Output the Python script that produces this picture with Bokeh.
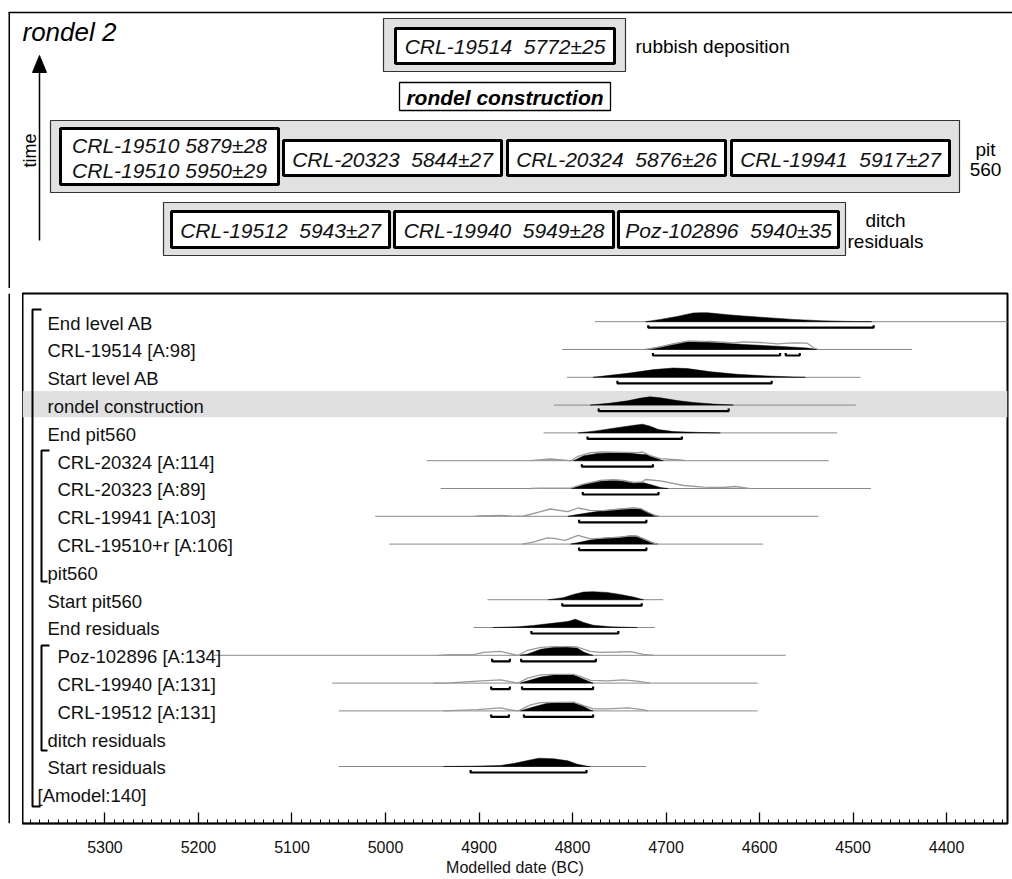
import numpy as np
from bokeh.plotting import figure
from bokeh.layouts import column, row
from bokeh.models import Range1d, SingleIntervalTicker
from bokeh.core.properties import value
from bokeh.embed import file_html
from bokeh.resources import INLINE

# ---------------------------------------------------------------- data
row_labels = ["End level AB", "CRL-19514 [A:98]", "Start level AB", "rondel construction",
              "End pit560", "CRL-20324 [A:114]", "CRL-20323 [A:89]", "CRL-19941 [A:103]",
              "CRL-19510+r [A:106]", "pit560", "Start pit560", "End residuals",
              "Poz-102896 [A:134]", "CRL-19940 [A:131]", "CRL-19512 [A:131]",
              "ditch residuals", "Start residuals", "[Amodel:140]"]
row_level = [0, 0, 0, 0, 0, 1, 1, 1, 1, 0, 0, 0, 1, 1, 1, 0, 0, -1]

# prior (unmodelled) extent of each distribution, years BC
prior_start = [4776, 4811, 4806, 4820, 4831, 4956, 4941, 5011, 4996, None, 4891, 4906, 5184, 5057, 5050, None, 5050, None]
prior_end   = [4300, 4437, 4492, 4497, 4517, 4526, 4481, 4537, 4596, None, 4703, 4712, 4572, 4602, 4602, None, 4721, None]

# modelled (posterior) densities
post0_x = [4722, 4706, 4688, 4671, 4663, 4655, 4634, 4617, 4591, 4564, 4535, 4506, 4480]
post0_p = [0, 2.3, 5.3, 8.7, 9.0, 8.9, 7.0, 5.7, 4.0, 2.3, 1.0, 0.3, 0]
post1_x = [4722, 4706, 4695, 4684, 4676, 4663, 4652, 4617, 4581, 4549, 4538]
post1_p = [0, 2.7, 5, 7, 8.3, 8, 7.3, 5, 3.3, 1.5, 0]
post2_x = [4778, 4760, 4741, 4713, 4692, 4677, 4652, 4624, 4591, 4564, 4551]
post2_p = [0, 2, 4, 7.7, 9.3, 8.7, 5.5, 3, 1.3, 0.3, 0]
post3_x = [4781, 4759, 4741, 4727, 4717, 4706, 4688, 4671, 4649, 4628]
post3_p = [0, 2, 4.3, 7, 8.3, 7.3, 4.5, 2.7, 1, 0]
post4_x = [4794, 4775, 4754, 4734, 4725, 4717, 4708, 4692, 4666, 4642]
post4_p = [0, 2, 5, 7.7, 8.7, 6.7, 3.3, 1.3, 0.5, 0]
post5_x = [4799, 4788, 4773, 4756, 4738, 4731, 4720, 4713, 4706, 4703]
post5_p = [0, 5, 7.3, 8, 7.7, 6.7, 6, 3.3, 1, 0]
post6_x = [4802, 4788, 4770, 4756, 4746, 4735, 4724, 4717, 4706, 4698]
post6_p = [0, 4.3, 8, 8.7, 8, 6, 5.7, 4, 1, 0]
post7_x = [4805, 4795, 4781, 4767, 4749, 4735, 4727, 4720, 4713, 4708]
post7_p = [0, 1.7, 3.7, 5.7, 7.3, 8.3, 7.7, 4.3, 1.3, 0]
post8_x = [4802, 4795, 4781, 4767, 4749, 4738, 4731, 4724, 4714, 4709]
post8_p = [0, 1.3, 4, 6, 7, 8.3, 8, 5.3, 1.3, 0]
post10_x = [4826, 4810, 4799, 4788, 4778, 4763, 4749, 4735, 4724]
post10_p = [0, 2, 5.3, 7.7, 8, 7.3, 5.3, 2.7, 0]
post11_x = [4885, 4859, 4842, 4824, 4805, 4797, 4788, 4778, 4759, 4731]
post11_p = [0, 0.7, 2, 4, 6, 8.3, 5, 2.3, 0.7, 0]
post12_x = [4856, 4848, 4834, 4820, 4805, 4795, 4788, 4781, 4778]
post12_p = [0, 1.3, 6, 8, 8.3, 7.3, 3.3, 0.7, 0]
post13_x = [4856, 4834, 4820, 4799, 4791, 4781, 4778]
post13_p = [0, 6, 8, 8.3, 5, 1, 0]
post14_x = [4856, 4842, 4827, 4813, 4799, 4789, 4781, 4778]
post14_p = [0, 4, 7.7, 8.3, 8.3, 5, 1, 0]
post16_x = [4938, 4909, 4877, 4863, 4848, 4836, 4820, 4805, 4795, 4784, 4781]
post16_p = [0, 0.3, 1, 3, 6, 8.3, 7.7, 5.7, 2.3, 0.3, 0]

# unmodelled likelihoods (grey outlines)
like1_x = [4722, 4706, 4695, 4684, 4676, 4663, 4656, 4652, 4628, 4618, 4599, 4581, 4564, 4549, 4542, 4537]
like1_p = [0, 2.7, 5, 7, 8.3, 8, 8, 8, 6.7, 7.7, 7, 5.7, 6.7, 6.3, 1.7, 0]
like5_x = [4845, 4824, 4802, 4795, 4781, 4767, 4731, 4725, 4717, 4706, 4685, 4679]
like5_p = [0, 1.7, 0, 4, 8, 8.7, 8, 8.7, 5, 2, 0.7, 0]
like6_x = [4845, 4834, 4802, 4788, 4770, 4756, 4746, 4735, 4726, 4722, 4706, 4681, 4660, 4639, 4626, 4613, 4610]
like6_p = [0, 0.3, 0.3, 4.3, 8, 8.7, 8, 6, 6.5, 9, 7.7, 3, 1.3, 1, 2, 0.3, 0]
like7_x = [4905, 4900, 4877, 4863, 4852, 4837, 4824, 4805, 4794, 4781, 4767, 4749, 4735, 4727, 4720, 4713, 4708]
like7_p = [0, 0.3, 1, 0, 0.3, 4, 7.3, 4.7, 8.3, 6, 5.7, 7.3, 8.3, 7.7, 4.3, 1.3, 0]
like8_x = [4854, 4842, 4827, 4820, 4808, 4794, 4781, 4767, 4749, 4738, 4731, 4724, 4714, 4709]
like8_p = [0, 2, 6.3, 5.7, 3.7, 8.7, 5.3, 6, 7, 8.3, 8, 5.3, 1.3, 0]
like12_x = [4944, 4931, 4906, 4895, 4877, 4868, 4858, 4848, 4834, 4820, 4805, 4795, 4781, 4770, 4752, 4738, 4724, 4713]
like12_p = [0, 0.7, 0.7, 3, 4, 2, 0, 5, 8, 8.7, 8.7, 8.3, 4, 3, 3.3, 3.7, 1, 0]
like13_x = [4949, 4931, 4902, 4877, 4868, 4858, 4848, 4834, 4820, 4799, 4789, 4781, 4763, 4746, 4731, 4717]
like13_p = [0, 0.3, 2, 3.3, 1.7, 0, 5, 8.3, 8.7, 8.7, 5.7, 2.7, 2.3, 3.3, 2, 0]
like14_x = [4938, 4902, 4877, 4868, 4858, 4845, 4834, 4799, 4784, 4778, 4763, 4741, 4727, 4719]
like14_p = [0, 1.3, 3, 1.3, 0, 6, 8.3, 8.7, 4, 2, 2, 3, 1.5, 0]

# 95.4% highest posterior density ranges
hpd0 = [(4719, 4478)]
hpd1 = [(4714, 4578), (4572, 4557)]
hpd2 = [(4752, 4587)]
hpd3 = [(4772, 4633)]
hpd4 = [(4784, 4683)]
hpd5 = [(4790, 4714)]
hpd6 = [(4789, 4708)]
hpd7 = [(4793, 4721)]
hpd8 = [(4793, 4721)]
hpd10 = [(4811, 4726)]
hpd11 = [(4844, 4751)]
hpd12 = [(4886, 4867), (4855, 4775)]
hpd13 = [(4887, 4867), (4854, 4778)]
hpd14 = [(4887, 4868), (4852, 4778)]
hpd16 = [(4909, 4785)]

posteriors = {0: (post0_x, post0_p), 1: (post1_x, post1_p), 2: (post2_x, post2_p),
              3: (post3_x, post3_p), 4: (post4_x, post4_p), 5: (post5_x, post5_p),
              6: (post6_x, post6_p), 7: (post7_x, post7_p), 8: (post8_x, post8_p),
              10: (post10_x, post10_p), 11: (post11_x, post11_p), 12: (post12_x, post12_p),
              13: (post13_x, post13_p), 14: (post14_x, post14_p), 16: (post16_x, post16_p)}
likelihoods = {1: (like1_x, like1_p), 5: (like5_x, like5_p), 6: (like6_x, like6_p),
               7: (like7_x, like7_p), 8: (like8_x, like8_p), 12: (like12_x, like12_p),
               13: (like13_x, like13_p), 14: (like14_x, like14_p)}
hpds = {0: hpd0, 1: hpd1, 2: hpd2, 3: hpd3, 4: hpd4, 5: hpd5, 6: hpd6, 7: hpd7, 8: hpd8,
        10: hpd10, 11: hpd11, 12: hpd12, 13: hpd13, 14: hpd14, 16: hpd16}
highlight_row = 3

# top diagram text
SP2 = "\u00a0 "
diagram_title = "rondel 2"
time_label = "time"
rubbish_sample = "CRL-19514" + SP2 + "5772±25"
rubbish_label = "rubbish deposition"
construction_label = "rondel construction"
pit_samples = [["CRL-19510 5879±28", "CRL-19510 5950±29"], ["CRL-20323" + SP2 + "5844±27"],
               ["CRL-20324" + SP2 + "5876±26"], ["CRL-19941" + SP2 + "5917±27"]]
pit_label = ["pit", "560"]
ditch_samples = ["CRL-19512" + SP2 + "5943±27", "CRL-19940" + SP2 + "5949±28",
                 "Poz-102896" + SP2 + "5940±35"]
ditch_label = ["ditch", "residuals"]
axis_title = "Modelled date (BC)"

# ---------------------------------------------------------------- style / layout
FONT = value("Liberation Sans")
W = 1012
TOTAL_H = 879
TOP_H = 288
BOT_H = TOTAL_H - TOP_H
STRIP_W = 22
GREY_BOX = "#e1e1e1"

# ---------------------------------------------------------------- top diagram (pixel coords)
top = figure(width=W, height=TOP_H, x_range=Range1d(0, W), y_range=Range1d(TOP_H, 0),
             output_backend="svg", toolbar_location=None, x_axis_location=None,
             y_axis_location=None, min_border=0, outline_line_color=None)
top.xgrid.visible = False
top.ygrid.visible = False

# outer frame lines
top.segment(x0=[8, 8.75], y0=[12, 12], x1=[W, 8.75], y1=[12, TOP_H], line_color="black", line_width=1.5)

top.text(x=[22], y=[31], text=[diagram_title], text_font=FONT, text_font_style="italic",
         text_font_size="26px", text_baseline="middle", text_align="left")

# time arrow
top.segment(x0=[39], y0=[240], x1=[39], y1=[70], line_color="black", line_width=1.5)
top.patch(x=[39, 32, 46], y=[55, 72, 72], fill_color="black", line_color="black")
top.text(x=[29], y=[150], text=[time_label], angle=np.pi / 2, text_font=FONT,
         text_font_size="18px", text_baseline="middle", text_align="center")

# grey group boxes
grp_l = [383, 50, 163]
grp_r = [625, 959, 845]
grp_t = [18, 120, 202]
grp_b = [71, 192, 255]
top.quad(left=grp_l, right=grp_r, top=grp_t, bottom=grp_b, fill_color=GREY_BOX,
         line_color="#333333", line_width=1.2)

# sample boxes
bx_l = [395, 60, 283, 507, 731, 171, 394, 618]
bx_r = [614, 278, 501, 725, 949, 389, 613, 838]
bx_t = [28, 128, 140, 140, 140, 211, 211, 211]
bx_b = [63, 184, 175, 175, 175, 247, 247, 247]
top.quad(left=bx_l, right=bx_r, top=bx_t, bottom=bx_b, fill_color="white",
         line_color="black", line_width=3)

txt_x, txt_y, txt = [], [], []
txt_x.append((bx_l[0] + bx_r[0]) / 2); txt_y.append(46); txt.append(rubbish_sample)
for k, lines in enumerate(pit_samples):
    cx = (bx_l[1 + k] + bx_r[1 + k]) / 2
    cy = (bx_t[1 + k] + bx_b[1 + k]) / 2 + 1
    n = len(lines)
    for j, ln in enumerate(lines):
        txt_x.append(cx); txt_y.append(cy + (j - (n - 1) / 2) * 25); txt.append(ln)
for k, s in enumerate(ditch_samples):
    txt_x.append((bx_l[5 + k] + bx_r[5 + k]) / 2); txt_y.append(230); txt.append(s)
top.text(x=txt_x, y=txt_y, text=txt, text_font=FONT, text_font_style="italic",
         text_font_size="21px", text_baseline="middle", text_align="center",
         text_color="#111111")

# rondel construction box
top.quad(left=[399], right=[610], top=[82], bottom=[110], fill_color="white",
         line_color="black", line_width=1.3)
top.text(x=[504.5], y=[97], text=[construction_label], text_font=FONT,
         text_font_style="bold italic", text_font_size="21px", text_baseline="middle",
         text_align="center")

# side labels
top.text(x=[635], y=[46], text=[rubbish_label], text_font=FONT, text_font_size="19px",
         text_baseline="middle", text_align="left")
top.text(x=[985, 985], y=[149, 169], text=pit_label, text_font=FONT, text_font_size="19px",
         text_baseline="middle", text_align="center")
top.text(x=[885, 885], y=[220, 241], text=ditch_label, text_font=FONT, text_font_size="19px",
         text_baseline="middle", text_align="center")

# ---------------------------------------------------------------- left strip (outer frame line)
strip = figure(width=STRIP_W, height=BOT_H, x_range=Range1d(0, STRIP_W), y_range=Range1d(0, BOT_H),
               output_backend="svg", toolbar_location=None, x_axis_location=None,
               y_axis_location=None, min_border=0, outline_line_color=None)
strip.xgrid.visible = False
strip.ygrid.visible = False
strip.segment(x0=[8.75], y0=[0], x1=[8.75], y1=[BOT_H], line_color="black", line_width=1.5)

# ---------------------------------------------------------------- chart
PX_PER_YR = 0.9351
REF_PX, REF_YR = 385.0, 5000.0
FRAME_L, FRAME_R, FRAME_T, FRAME_B = 22, 1007, 293, 823
ROW0, ROWH = 322.5, 27.8


def yr(px):
    return REF_YR - (px - REF_PX) / PX_PER_YR


def rw(py):
    return (py - ROW0) / ROWH


x0, x1 = yr(FRAME_L), yr(FRAME_R)
chart = figure(width=W - STRIP_W, height=BOT_H, x_range=Range1d(x0, x1),
               y_range=Range1d(rw(FRAME_B), rw(FRAME_T)), output_backend="svg",
               toolbar_location=None, y_axis_location=None,
               min_border_left=0, min_border_right=W - STRIP_W - (FRAME_R - FRAME_L),
               min_border_top=FRAME_T - TOP_H, min_border_bottom=TOTAL_H - FRAME_B)
chart.xgrid.visible = False
chart.ygrid.visible = False
chart.outline_line_color = "black"
chart.outline_line_width = 2

# highlight band
chart.quad(left=[x0], right=[x1], top=[highlight_row - 0.55], bottom=[highlight_row + 0.39],
           fill_color="#e0e0e0", line_color=None)

BASE = -1.3 / ROWH
HPD_OFF = 6.0 / ROWH
DENS = 1.0 / ROWH
TICK = 2.5 / ROWH

# prior lines
pl_x0, pl_x1, pl_y = [], [], []
for i, (a, b) in enumerate(zip(prior_start, prior_end)):
    if a is None:
        continue
    pl_x0.append(a); pl_x1.append(b); pl_y.append(i + BASE)
chart.segment(x0=pl_x0, y0=pl_y, x1=pl_x1, y1=pl_y, line_color="#8a8a8a", line_width=1)

# posterior fills
pxs, pys = [], []
for i, (xs, ps) in posteriors.items():
    b = i + BASE
    pxs.append(list(xs) + [xs[-1], xs[0]])
    pys.append([b - p * DENS for p in ps] + [b, b])
chart.patches(xs=pxs, ys=pys, fill_color="black", line_color="black", line_width=0.5)

# likelihood outlines
lxs, lys = [], []
for i, (xs, ps) in likelihoods.items():
    b = i + BASE
    lxs.append(list(xs))
    lys.append([b - p * DENS for p in ps])
chart.multi_line(xs=lxs, ys=lys, line_color="#9a9a9a", line_width=1.3)

# hpd brackets
hx, hy = [], []
for i, segs in hpds.items():
    yb = i + BASE + HPD_OFF
    for a, b in segs:
        hx.append([a, a, b, b])
        hy.append([yb - TICK, yb, yb, yb - TICK])
chart.multi_line(xs=hx, ys=hy, line_color="black", line_width=2.2)

# structural brackets
sx, sy = [], []
for (bxp, t, bt, tw, bw) in [(32, 309, 806, 9, 8), (41, 450, 581, 8, 6), (41, 645, 750, 8, 6)]:
    sx.append([yr(bxp + tw), yr(bxp), yr(bxp), yr(bxp + bw)])
    sy.append([rw(t), rw(t), rw(bt), rw(bt)])
chart.multi_line(xs=sx, ys=sy, line_color="black", line_width=2)

# row labels
offsets = {0: 25, 1: 35, -1: 15}
chart.text(x=[x0] * len(row_labels), y=list(range(len(row_labels))), text=row_labels,
           x_offset=[offsets[l] for l in row_level], text_font=FONT, text_font_size="18.5px",
           text_baseline="middle", text_align="left", text_color="#111111")

ax = chart.xaxis[0]
ax.ticker = SingleIntervalTicker(interval=100, num_minor_ticks=10)
ax.major_tick_in = 11
ax.major_tick_out = 0
ax.minor_tick_in = 4
ax.minor_tick_out = 0
ax.axis_line_width = 1.5
ax.major_tick_line_width = 1.3
ax.minor_tick_line_width = 1
ax.major_label_text_font = "Liberation Sans"
ax.major_label_text_font_size = "16px"
ax.major_label_text_color = "#111111"
ax.major_label_standoff = 17
ax.axis_label = axis_title
ax.axis_label_text_font = "Liberation Sans"
ax.axis_label_text_font_size = "16px"
ax.axis_label_text_font_style = "normal"
ax.axis_label_text_color = "#111111"
ax.axis_label_standoff = 3

layout = column(top, row(strip, chart))
open("out.html", "w").write(file_html(layout, INLINE))
